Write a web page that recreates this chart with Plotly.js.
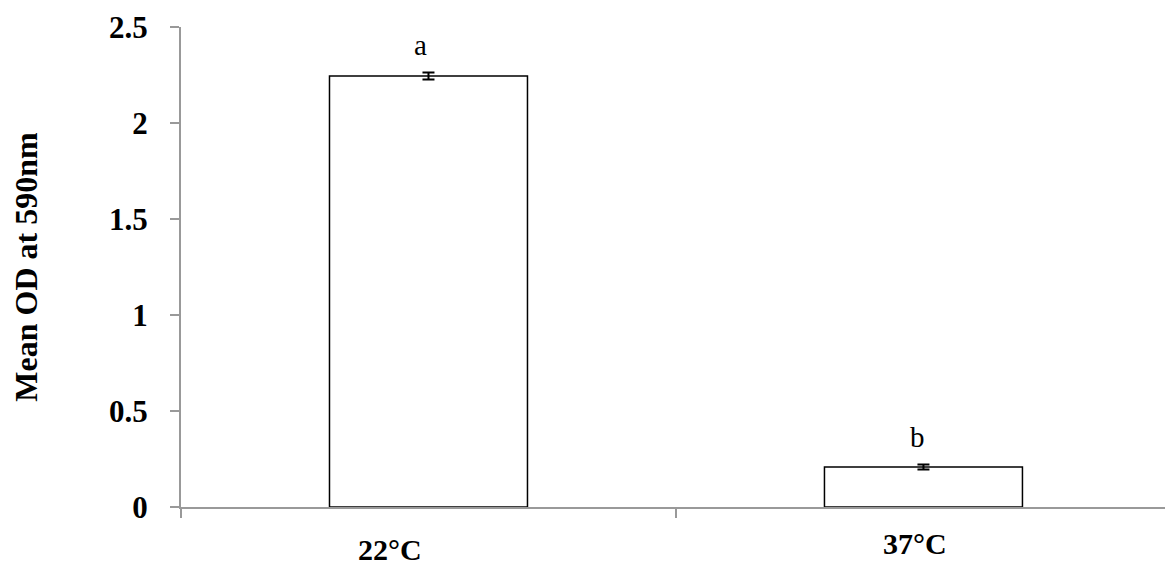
<!DOCTYPE html>
<html><head><meta charset="utf-8">
<script src="https://cdn.plot.ly/plotly-3.0.1.min.js"></script>
<style>html,body{margin:0;padding:0;background:#fff}</style>
</head><body><div id="chart" style="width:1165px;height:567px"></div>
<script>
const categories = ["22°C", "37°C"];
const meanOD = [2.245, 0.208];
const errOD = [0.018, 0.013];
const letters = ["a", "b"];

const serif = "Liberation Serif, Times New Roman, serif";
const trace = {
  type: "bar", x: categories, y: meanOD, width: 0.4,
  marker: {color: "#ffffff", line: {color: "#000000", width: 1.5}},
  error_y: {type: "data", array: errOD, visible: true, color: "#000000", thickness: 2, width: 6},
  hoverinfo: "skip"
};
const letterAnn = categories.map((c, i) => ({
  x: c, y: meanOD[i] + errOD[i], xref: "x", yref: "y", text: letters[i],
  showarrow: false, yanchor: "bottom", yshift: 10, xshift: i === 0 ? -8 : -6,
  font: {family: serif, size: 29, color: "#000"}
}));
const catShift = [-38, -8];
const catYshift = [0, 6];
const catAnn = categories.map((c, i) => ({
  x: c, y: 0, xref: "x", yref: "paper", text: c,
  showarrow: false, yanchor: "top", yshift: -24 + catYshift[i], xshift: catShift[i],
  font: {family: serif, size: 30, color: "#000", weight: "bold"}
}));
const layout = {
  width: 1165, height: 567,
  margin: {l: 181, r: 0, t: 27, b: 60},
  paper_bgcolor: "#fff", plot_bgcolor: "#fff",
  showlegend: false,
  font: {family: serif, color: "#000"},
  xaxis: {
    type: "category", range: [-0.5, 1.488], tickson: "boundaries",
    ticks: "outside", ticklen: 9, tickcolor: "#999", tickwidth: 2,
    showline: true, linecolor: "#999", linewidth: 2, showgrid: false, zeroline: false,
    showticklabels: false
  },
  yaxis: {
    range: [0, 2.5], tickvals: [0, 0.5, 1, 1.5, 2, 2.5], ticktext: ["0", "0.5", "1", "1.5", "2", "2.5"],
    ticks: "outside", ticklen: 9, tickcolor: "#999", tickwidth: 2,
    showline: true, linecolor: "#999", linewidth: 2, showgrid: false, zeroline: false,
    tickfont: {size: 31, family: serif, weight: "bold"},
    ticklabelstandoff: 16,
    title: {text: "Mean OD at 590nm", standoff: 62, font: {size: 32, family: serif, weight: "bold"}}
  },
  annotations: letterAnn.concat(catAnn)
};
Plotly.newPlot("chart", [trace], layout, {displayModeBar: false, staticPlot: true});
</script></body></html>
